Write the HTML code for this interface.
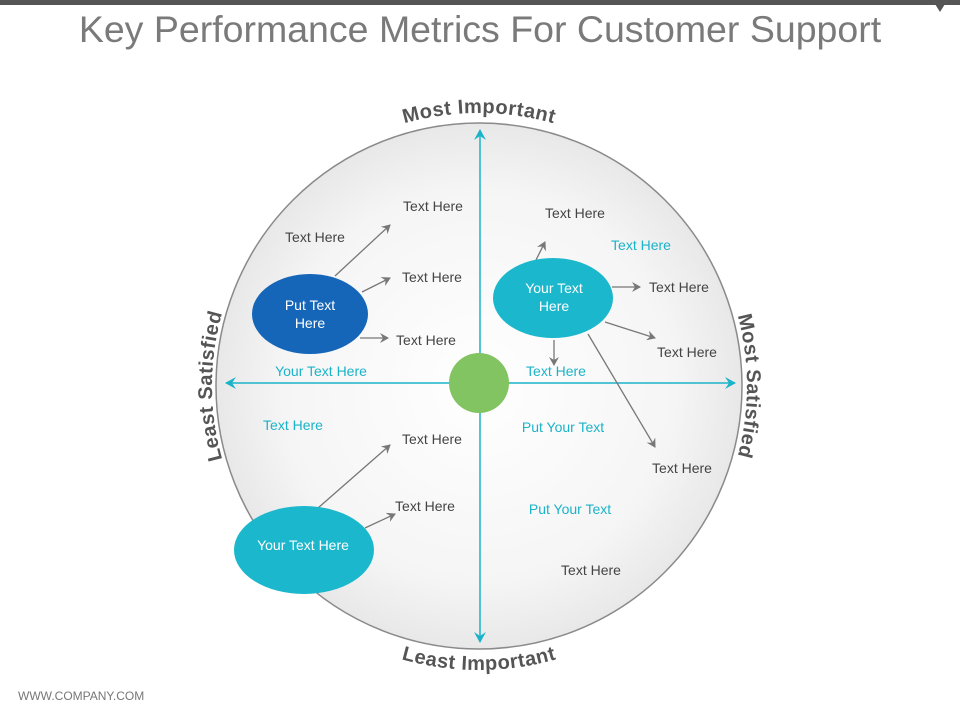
<!DOCTYPE html>
<html><head><meta charset="utf-8"><style>
html,body{margin:0;padding:0;background:#fff;}
svg{display:block;}
text{font-family:"Liberation Sans",sans-serif;}
</style></head><body>
<svg width="960" height="720" viewBox="0 0 960 720" xmlns="http://www.w3.org/2000/svg">
<defs>
<radialGradient id="bg" cx="50%" cy="50%" r="50%">
<stop offset="0" stop-color="#ffffff"/><stop offset="0.75" stop-color="#f5f5f5"/><stop offset="1" stop-color="#e8e8e8"/>
</radialGradient>
<marker id="ga" markerWidth="10" markerHeight="10" refX="8" refY="5" orient="auto" markerUnits="userSpaceOnUse">
<path d="M0,0 L9,5 L0,10 L3,5 Z" fill="#777"/></marker>
<marker id="ta" markerWidth="12" markerHeight="12" refX="10" refY="6" orient="auto" markerUnits="userSpaceOnUse">
<path d="M0,0 L11,6 L0,12 L4,6 Z" fill="#1bb3c9"/></marker>
<path id="pTop" d="M 206,386 A 273,273 0 0 1 752,386"/>
<path id="pBot" d="M 195,386 A 284,284 0 0 0 763,386"/>
<path id="pLeft" d="M 479,653 A 267,267 0 0 1 479,119"/>
<path id="pRight" d="M 479,118 A 268,268 0 0 1 479,654"/>
</defs>
<rect x="0" y="0" width="960" height="5" fill="#555"/>
<path d="M935,4 L945,4 L940,12 Z" fill="#555"/>
<text x="480" y="42" font-size="37.5" fill="#7a7a7a" text-anchor="middle">Key Performance Metrics For Customer Support</text>
<circle cx="479" cy="386" r="263" fill="url(#bg)" stroke="#8a8a8a" stroke-width="1.5"/>
<g font-size="20" font-weight="bold" fill="#555" text-anchor="middle" letter-spacing="0.5">
<text><textPath href="#pTop" startOffset="50%">Most Important</textPath></text>
<text><textPath href="#pBot" startOffset="50%">Least Important</textPath></text>
<text><textPath href="#pLeft" startOffset="50%">Least Satisfied</textPath></text>
<text><textPath href="#pRight" startOffset="50%">Most Satisfied</textPath></text>
</g>
<line x1="480" y1="383" x2="480" y2="130" stroke="#1bb3c9" stroke-width="1.5" marker-end="url(#ta)"/>
<line x1="480" y1="383" x2="480" y2="642" stroke="#1bb3c9" stroke-width="1.5" marker-end="url(#ta)"/>
<line x1="480" y1="383" x2="226" y2="383" stroke="#1bb3c9" stroke-width="1.5" marker-end="url(#ta)"/>
<line x1="480" y1="383" x2="735" y2="383" stroke="#1bb3c9" stroke-width="1.5" marker-end="url(#ta)"/>
<circle cx="479" cy="383" r="30" fill="#82c462"/>
<g stroke="#777" stroke-width="1.3" fill="none">
<line x1="335" y1="276" x2="390" y2="225" marker-end="url(#ga)"/>
<line x1="362" y1="292" x2="390" y2="278" marker-end="url(#ga)"/>
<line x1="360" y1="338" x2="388" y2="338" marker-end="url(#ga)"/>
<line x1="536" y1="260" x2="545" y2="242" marker-end="url(#ga)"/>
<line x1="612" y1="287" x2="640" y2="287" marker-end="url(#ga)"/>
<line x1="605" y1="322" x2="655" y2="338" marker-end="url(#ga)"/>
<line x1="554" y1="340" x2="554" y2="365" marker-end="url(#ga)"/>
<line x1="588" y1="334" x2="655" y2="447" marker-end="url(#ga)"/>
<line x1="318" y1="508" x2="390" y2="445" marker-end="url(#ga)"/>
<line x1="365" y1="528" x2="395" y2="514" marker-end="url(#ga)"/>
</g>
<ellipse cx="310" cy="314" rx="58" ry="40" fill="#1565b8"/>
<ellipse cx="553" cy="298" rx="60" ry="40" fill="#1bb7cc"/>
<ellipse cx="304" cy="550" rx="70" ry="44" fill="#1bb7cc"/>
<g font-size="14" fill="#fff" text-anchor="middle">
<text x="310" y="310">Put Text</text><text x="310" y="328">Here</text>
<text x="554" y="293">Your Text</text><text x="554" y="311">Here</text>
<text x="303" y="550">Your Text Here</text>
</g>
<g font-size="14" fill="#444" text-anchor="middle">
<text x="433" y="211">Text Here</text>
<text x="315" y="242">Text Here</text>
<text x="432" y="282">Text Here</text>
<text x="426" y="345">Text Here</text>
<text x="575" y="218">Text Here</text>
<text x="679" y="292">Text Here</text>
<text x="687" y="357">Text Here</text>
<text x="432" y="444">Text Here</text>
<text x="425" y="511">Text Here</text>
<text x="682" y="473">Text Here</text>
<text x="591" y="575">Text Here</text>
</g>
<g font-size="14" fill="#1bb3c9" text-anchor="middle">
<text x="641" y="250">Text Here</text>
<text x="321" y="376">Your Text Here</text>
<text x="556" y="376">Text Here</text>
<text x="293" y="430">Text Here</text>
<text x="563" y="432">Put Your Text</text>
<text x="570" y="514">Put Your Text</text>
</g>
<text x="18" y="700" font-size="12" fill="#777">WWW.COMPANY.COM</text>
</svg>
</body></html>
